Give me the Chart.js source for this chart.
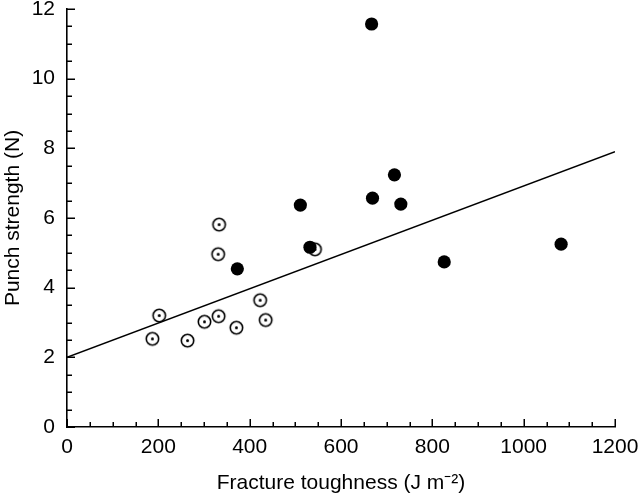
<!DOCTYPE html>
<html>
<head>
<meta charset="utf-8">
<script src="https://cdn.jsdelivr.net/npm/chart.js@4"></script>
<style>
  html, body { margin: 0; padding: 0; background: #fff; }
  #chart { display: block; }
</style>
</head>
<body>
<canvas id="chart" width="640" height="496"></canvas>
<script>
// Filled circles
var solidX = [373, 511, 532, 667, 669, 717, 731, 826, 1082];
var solidY = [4.54, 6.37, 5.16, 11.57, 6.57, 7.24, 6.40, 4.74, 5.25];

// Open circles with a centre dot
var dotX = [187, 202, 264, 301, 332, 333, 331, 371, 423, 435, 543];
var dotY = [2.53, 3.20, 2.48, 3.02, 3.18, 5.81, 4.96, 2.85, 3.64, 3.07, 5.10];

// Fitted line end points
var fitX = [0, 1200];
var fitY = [2.0, 7.9];

var xTicks = [0, 200, 400, 600, 800, 1000, 1200];
var yTicks = [0, 2, 4, 6, 8, 10, 12];
var xMinorStep = 50;
var yMinorStep = 0.5;

function pts(xs, ys) {
    return xs.map(function(x, i) { return { x: x, y: ys[i] }; });
}

// marker: open circle with a dot in the middle
var dotMarker = document.createElement('canvas');
dotMarker.width = 17;
dotMarker.height = 17;
(function() {
    var c = dotMarker.getContext('2d');
    c.fillStyle = '#fff';
    c.strokeStyle = '#000';
    c.lineWidth = 1.6;
    c.beginPath();
    c.arc(8.5, 8.5, 6.2, 0, Math.PI * 2);
    c.fill();
    c.stroke();
    c.fillStyle = '#000';
    c.beginPath();
    c.arc(8.5, 8.5, 1.5, 0, Math.PI * 2);
    c.fill();
})();

// inward tick marks, major and minor
var innerTicks = {
    id: 'innerTicks',
    afterDraw: function(chart) {
        var ctx = chart.ctx;
        var xs = chart.scales.x, ys = chart.scales.y;
        var x0 = xs.getPixelForValue(0), y0 = ys.getPixelForValue(0);
        ctx.save();
        ctx.strokeStyle = '#000';
        ctx.lineWidth = 1.5;
        ctx.beginPath();
        for (var v = 0; v <= 1200; v += xMinorStep) {
            var px = Math.round(xs.getPixelForValue(v)) + 0.25;
            var len = xTicks.indexOf(v) >= 0 ? 8 : 5;
            ctx.moveTo(px, y0);
            ctx.lineTo(px, y0 - len);
        }
        for (var k = 0; k <= 24; k++) {
            var w = k * yMinorStep;
            var py = Math.round(ys.getPixelForValue(w)) + 0.25;
            var l2 = yTicks.indexOf(w) >= 0 ? 8 : 5;
            ctx.moveTo(x0, py);
            ctx.lineTo(x0 + l2, py);
        }
        ctx.stroke();
        ctx.restore();
    }
};

var font = { family: '"Liberation Sans", Arial, sans-serif', size: 21 };

new Chart(document.getElementById('chart'), {
    type: 'scatter',
    data: {
        datasets: [
            { label: 'solid', data: pts(solidX, solidY), pointStyle: 'circle', pointRadius: 6.6,
              backgroundColor: '#000', borderColor: '#000', borderWidth: 0 },
            { label: 'dot', data: pts(dotX, dotY), pointStyle: dotMarker, pointRadius: 7 },
            { label: 'fit', type: 'line', data: pts(fitX, fitY), borderColor: '#000', borderWidth: 1.5,
              pointRadius: 0, fill: false }
        ]
    },
    options: {
        responsive: false,
        animation: false,
        events: [],
        layout: { padding: { top: 9, right: 25, left: 0, bottom: 0 } },
        plugins: { legend: { display: false }, tooltip: { enabled: false } },
        scales: {
            x: {
                type: 'linear', min: 0, max: 1200,
                afterFit: function(s) { s.height = 69; s.paddingLeft = 0; s.paddingRight = 0; },
                afterBuildTicks: function(s) { s.ticks = xTicks.map(function(v) { return { value: v }; }); },
                grid: { display: false, drawTicks: false },
                border: { display: true, color: '#000', width: 1.6 },
                ticks: { color: '#000', font: font, padding: 8, maxRotation: 0,
                         callback: function(v) { return String(v); } },
                title: { display: true, text: 'Fracture toughness (J m\u207B\u00B2)', color: '#000', font: font,
                         padding: { top: 0, bottom: 0 } }
            },
            y: {
                type: 'linear', min: 0, max: 12,
                afterFit: function(s) { s.width = 67; s.paddingTop = 0; s.paddingBottom = 0; },
                afterBuildTicks: function(s) { s.ticks = yTicks.map(function(v) { return { value: v }; }); },
                grid: { display: false, drawTicks: false },
                border: { display: true, color: '#000', width: 1.6 },
                ticks: { color: '#000', font: font, padding: 12,
                         callback: function(v) { return String(v); } },
                title: { display: true, text: 'Punch strength (N)', color: '#000', font: font,
                         padding: { top: 1, bottom: 2 } }
            }
        }
    },
    plugins: [innerTicks]
});
</script>
</body>
</html>
